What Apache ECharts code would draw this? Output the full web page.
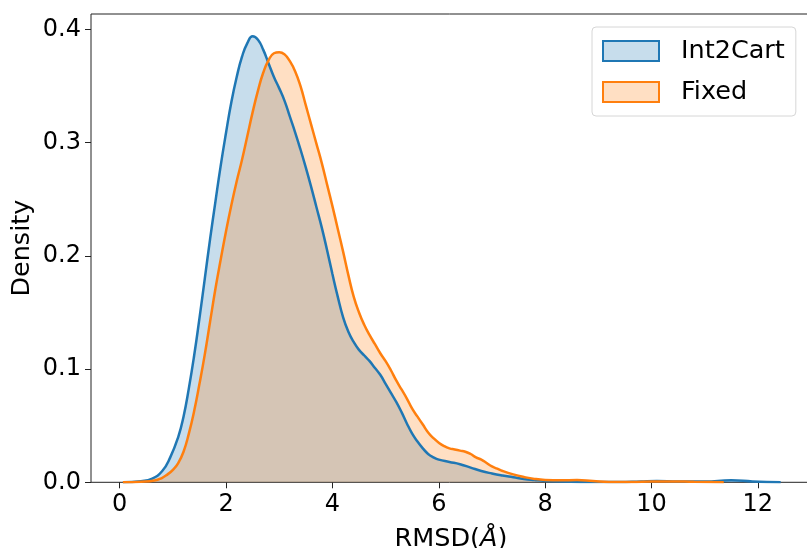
<!DOCTYPE html>
<html>
<head>
<meta charset="utf-8">
<script src="https://cdn.jsdelivr.net/npm/echarts@6/dist/echarts.min.js"></script>
<style>html,body{margin:0;padding:0;background:#fff}#c{width:807px;height:548px}</style>
</head>
<body>
<div id="c"></div>
<script>
const seriesNames = ['Int2Cart', 'Fixed'];
const xTicks = [0, 2, 4, 6, 8, 10, 12];
const yTicks = [0.0, 0.1, 0.2, 0.3, 0.4];

const int2cartX = [0.06, 0.4, 0.6, 0.8, 0.95, 1.1, 1.2, 1.3, 1.4, 1.5, 1.6, 1.7, 1.8, 1.9, 2.0, 2.1, 2.2, 2.3, 2.4, 2.5, 2.6, 2.7, 2.8, 2.9, 3.0, 3.1, 3.2, 3.3, 3.4, 3.5, 3.6, 3.7, 3.8, 3.9, 4.0, 4.1, 4.2, 4.3, 4.4, 4.5, 4.6, 4.7, 4.8, 4.9, 5.0, 5.1, 5.2, 5.3, 5.4, 5.5, 5.6, 5.7, 5.8, 5.9, 6.0, 6.2, 6.4, 6.6, 6.8, 7.0, 7.2, 7.4, 7.6, 7.8, 8.0, 8.3, 8.8, 9.4, 9.8, 10.1, 10.5, 11.0, 11.5, 11.9, 12.43];
const int2cartY = [0, 0.001, 0.003, 0.010, 0.022, 0.040, 0.058, 0.083, 0.112, 0.145, 0.180, 0.215, 0.248, 0.280, 0.309, 0.336, 0.358, 0.376, 0.388, 0.394, 0.391, 0.382, 0.370, 0.358, 0.348, 0.337, 0.323, 0.309, 0.294, 0.278, 0.261, 0.243, 0.225, 0.205, 0.184, 0.164, 0.146, 0.133, 0.124, 0.117, 0.112, 0.107, 0.101, 0.095, 0.087, 0.079, 0.071, 0.062, 0.052, 0.043, 0.036, 0.030, 0.025, 0.022, 0.020, 0.018, 0.016, 0.013, 0.010, 0.0078, 0.006, 0.0045, 0.003, 0.002, 0.0012, 0.0006, 0.0003, 0.0002, 0.0008, 0.0012, 0.0006, 0.0006, 0.0018, 0.0008, 0];

const fixedX = [0.06, 0.4, 0.65, 0.8, 0.9, 1.0, 1.1, 1.2, 1.3, 1.4, 1.5, 1.6, 1.7, 1.8, 1.9, 2.0, 2.1, 2.2, 2.3, 2.4, 2.5, 2.6, 2.7, 2.8, 2.9, 3.0, 3.1, 3.2, 3.3, 3.4, 3.5, 3.6, 3.7, 3.8, 3.9, 4.0, 4.1, 4.2, 4.3, 4.4, 4.5, 4.6, 4.7, 4.8, 4.9, 5.0, 5.1, 5.2, 5.3, 5.4, 5.5, 5.6, 5.7, 5.8, 5.9, 6.0, 6.1, 6.2, 6.3, 6.4, 6.5, 6.6, 6.7, 6.8, 6.9, 7.0, 7.1, 7.2, 7.4, 7.6, 7.8, 8.0, 8.3, 8.6, 8.9, 9.2, 9.6, 10.0, 10.4, 10.8, 11.36];
const fixedY = [0, 0.0005, 0.0015, 0.004, 0.007, 0.011, 0.017, 0.027, 0.043, 0.063, 0.087, 0.113, 0.142, 0.171, 0.197, 0.222, 0.245, 0.266, 0.285, 0.306, 0.327, 0.346, 0.362, 0.373, 0.379, 0.380, 0.378, 0.372, 0.363, 0.350, 0.333, 0.316, 0.299, 0.282, 0.263, 0.244, 0.224, 0.204, 0.183, 0.164, 0.150, 0.139, 0.130, 0.122, 0.114, 0.107, 0.099, 0.090, 0.082, 0.074, 0.065, 0.058, 0.051, 0.044, 0.039, 0.035, 0.032, 0.030, 0.029, 0.028, 0.027, 0.025, 0.022, 0.020, 0.017, 0.014, 0.012, 0.010, 0.007, 0.0047, 0.003, 0.0021, 0.0018, 0.002, 0.0011, 0.0003, 0.0002, 0.0006, 0.0008, 0.0004, 0];

const pairs = (xs, ys) => xs.map((x, i) => [x, ys[i]]);
const FONT = 'DejaVu Sans';
const colors = ['#1f77b4', '#ff7f0e'];
const fills = ['rgba(31,119,180,0.25)', 'rgba(255,127,14,0.25)'];

const chart = echarts.init(document.getElementById('c'), null, {renderer: 'canvas'});
chart.setOption({
  animation: false,
  backgroundColor: '#fff',
  textStyle: {fontFamily: FONT},
  grid: {left: 91, top: 14, width: 720, height: 468.3, show: true, borderColor: '#222', borderWidth: 1, containLabel: false, outerBoundsMode: 'none'},
  legend: {
    orient: 'vertical', left: 592, top: 27,
    padding: [11, 11, 11, 10],
    itemWidth: 56, itemHeight: 20, itemGap: 15,
    icon: 'rect',
    backgroundColor: 'rgba(255,255,255,0.8)', borderColor: '#d6d6d6', borderWidth: 1, borderRadius: 4,
    textStyle: {fontFamily: FONT, fontSize: 25.5, color: '#000', padding: [0, 0, 0, 17]},
    data: seriesNames.map((n, i) => ({name: n, itemStyle: {color: fills[i], borderColor: colors[i], borderWidth: 2}}))
  },
  xAxis: {
    type: 'value', min: -0.54, max: 13.0,
    splitLine: {show: false},
    axisLine: {show: false, onZero: false},
    axisTick: {show: true, length: 6, lineStyle: {color: '#222', width: 1}, customValues: xTicks},
    axisLabel: {customValues: xTicks, fontSize: 24, color: '#000', margin: 10, fontFamily: FONT},
    name: 'RMSD({i|Å})', nameLocation: 'middle', nameGap: 44, nameMoveOverlap: false,
    nameTextStyle: {fontSize: 25.5, color: '#000', fontFamily: FONT, rich: {i: {fontSize: 25.5, fontStyle: 'italic', fontFamily: FONT, color: '#000'}}}
  },
  yAxis: {
    type: 'value', min: 0, max: 0.4137,
    splitLine: {show: false},
    axisLine: {show: false, onZero: false},
    axisTick: {show: true, length: 6, lineStyle: {color: '#222', width: 1}, customValues: yTicks},
    axisLabel: {customValues: yTicks, fontSize: 24, color: '#000', margin: 10, fontFamily: FONT, formatter: v => v.toFixed(1)},
    name: 'Density', nameLocation: 'middle', nameGap: 56, nameMoveOverlap: false,
    nameTextStyle: {fontSize: 25.5, color: '#000', fontFamily: FONT}
  },
  series: [
    {name: seriesNames[0], type: 'line', data: pairs(int2cartX, int2cartY), smooth: 0.5, symbol: 'none',
     lineStyle: {color: colors[0], width: 2.5}, itemStyle: {color: colors[0]}, areaStyle: {color: fills[0], opacity: 1}},
    {name: seriesNames[1], type: 'line', data: pairs(fixedX, fixedY), smooth: 0.5, symbol: 'none',
     lineStyle: {color: colors[1], width: 2.5}, itemStyle: {color: colors[1]}, areaStyle: {color: fills[1], opacity: 1}}
  ]
});
</script>
</body>
</html>
